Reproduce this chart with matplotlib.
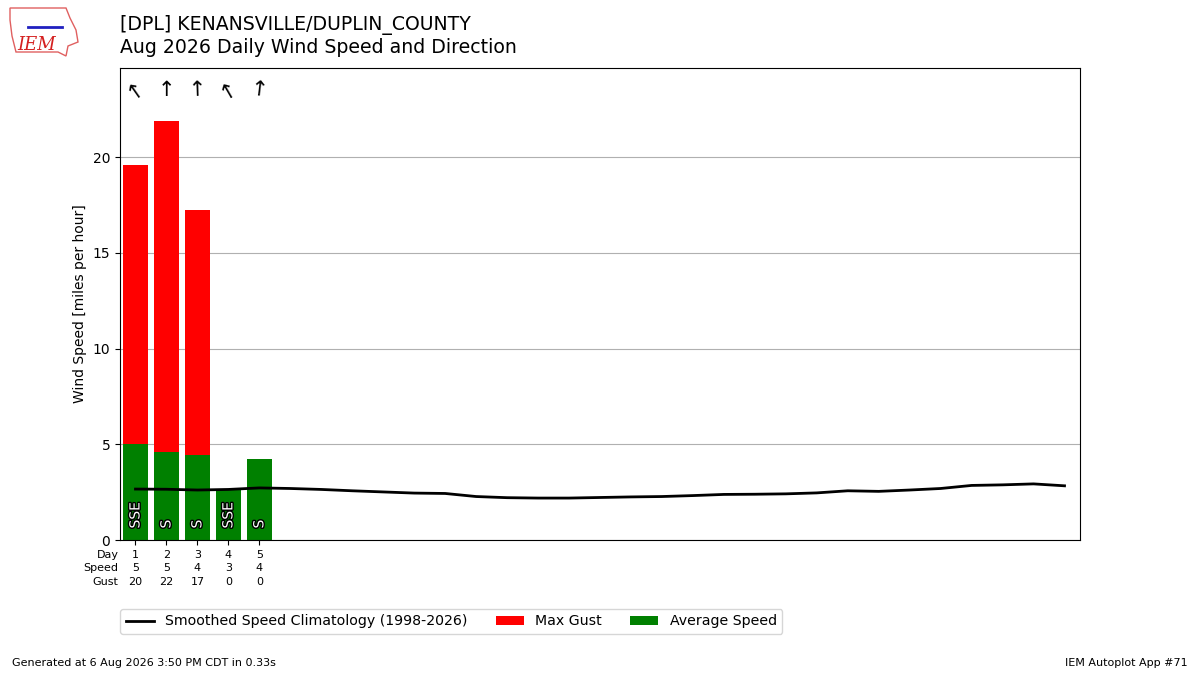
import matplotlib
matplotlib.use("Agg")
import matplotlib.pyplot as plt
import matplotlib.patheffects as PathEffects
from matplotlib.patches import Polygon

# ---- data ----
days = [1, 2, 3, 4, 5]
avg_speed = [5.01, 4.62, 4.44, 2.61, 4.23]
max_gust = [19.58, 21.88, 17.23, 0.0, 0.0]
drct_deg = [145, 180, 178, 150, 187]
drct_txt = ["SSE", "S", "S", "SSE", "S"]
speed_lbl = [5, 5, 4, 3, 4]
gust_lbl = [20, 22, 17, 0, 0]

clim_days = list(range(1, 32))
clim_speed = [2.66, 2.65, 2.61, 2.64, 2.72, 2.69, 2.64, 2.57, 2.51, 2.45,
              2.43, 2.27, 2.21, 2.19, 2.19, 2.22, 2.25, 2.27, 2.32, 2.38,
              2.39, 2.41, 2.46, 2.57, 2.54, 2.61, 2.69, 2.85, 2.88, 2.93,
              2.83]

title1 = "[DPL] KENANSVILLE/DUPLIN_COUNTY"
title2 = "Aug 2026 Daily Wind Speed and Direction"

# ---- figure ----
fig = plt.figure(figsize=(12, 6.75), dpi=100)
ax = fig.add_axes([0.1, 0.2, 0.8, 0.6993])

ax.plot(clim_days, clim_speed, color="k", lw=2, zorder=3,
        label="Smoothed Speed Climatology (1998-2026)")
ax.bar(days, max_gust, width=0.8, color="r", label="Max Gust", zorder=2)
ax.bar(days, avg_speed, width=0.8, color="g", label="Average Speed", zorder=2)

for d, t in zip(days, drct_txt):
    txt = ax.text(d, 0.6, t, rotation=90, ha="center", va="bottom",
                  color="white", fontsize=10, zorder=4)
    txt.set_path_effects([PathEffects.withStroke(linewidth=2, foreground="k")])

for d, deg in zip(days, drct_deg):
    ax.text(d, 23.5, "\u2191", rotation=180 - deg, ha="center", va="center",
            fontsize=15, zorder=4)

ax.set_xlim(0.5, 31.5)
ax.set_ylim(0, 24.65)
ax.set_yticks([0, 5, 10, 15, 20])
ax.yaxis.grid(True, color="#b0b0b0", zorder=0)
ax.set_axisbelow(True)
ax.set_ylabel("Wind Speed [miles per hour]")

ax.set_xticks(days)
ax.set_xticklabels([f"{d}\n{s}\n{g}" for d, s, g in zip(days, speed_lbl, gust_lbl)],
                   fontsize=8, linespacing=1.45)
ax.annotate("Day\nSpeed\nGust", xy=(0, 0), xycoords="axes fraction",
            xytext=(-1, -7), textcoords="offset points", ha="right", va="top",
            fontsize=8, multialignment="right", linespacing=1.45)

# legend
handles, labels = ax.get_legend_handles_labels()
fig.legend(handles, labels,
           loc="upper left", bbox_to_anchor=(0.1, 0.098), ncol=3,
           borderaxespad=0, fontsize=10.15)

# titles
fig.text(0.1, 0.978, title1 + "\n" + title2, ha="left", va="top", fontsize=13.6)

# footer
fig.text(0.01, 0.01, "Generated at 6 Aug 2026 3:50 PM CDT in 0.33s",
         ha="left", va="bottom", fontsize=8)
fig.text(0.99, 0.01, "IEM Autoplot App #71", ha="right", va="bottom", fontsize=8)

# simple logo
outline = [(10, 8), (66, 8), (70, 18), (76, 30), (78, 42), (68, 46), (66, 56),
           (58, 52), (16, 52), (12, 36), (10, 20)]
outline_fig = [(x / 1200, 1 - y / 675) for x, y in outline]
fig.patches.append(Polygon(outline_fig, closed=True, fill=False, ec="#e06060",
                           lw=1, transform=fig.transFigure, figure=fig))
fig.text(37 / 1200, 1 - 45 / 675, "IEM", color="#d42020", fontsize=13,
         family="DejaVu Serif", style="italic", ha="center", va="center")
fig.lines.append(plt.Line2D([28 / 1200, 62 / 1200], [1 - 27 / 675, 1 - 27 / 675],
                            color="#2020c0", lw=2, transform=fig.transFigure))

fig.savefig("out.png", dpi=100)
